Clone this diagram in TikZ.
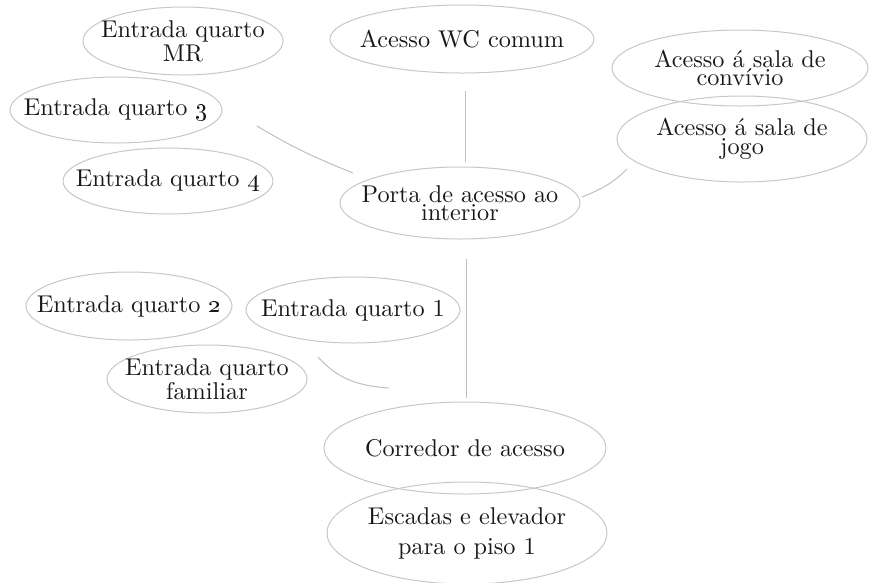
\documentclass[tikz,border=0pt]{standalone}
\usepackage{amsmath, amssymb}
\usepackage{tikz}
\usetikzlibrary{shapes.geometric}

\begin{document}
\begin{tikzpicture}[x=0.4pt, y=-0.4pt,
    room/.style={ellipse, draw=black!22, line width=0.4pt, inner sep=-40pt,
      align=center, font=\fontsize{9.7}{7.4}\selectfont, text=black!90},
    link/.style={draw=black!25, line width=0.4pt}]
      \useasboundingbox (0,0) rectangle (869,582);
      % Upper rooms
      \node[room, minimum width=80pt, minimum height=27.2pt] (mr) at (183,41) {Entrada quarto\\MR};
      \node[room, minimum width=84.8pt, minimum height=26.4pt] (q3) at (116,110) {Entrada quarto \oldstylenums{3}};
      \node[room, minimum width=84pt, minimum height=26.4pt] (q4) at (168,181) {Entrada quarto \oldstylenums{4}};
      \node[room, minimum width=105.6pt, minimum height=27.2pt] (wc) at (462,39) {Acesso WC comum};
      % Door
      \node[room, minimum width=96pt, minimum height=28.8pt] (porta) at (460,203) {Porta de acesso ao\\interior};
      % Common rooms
      \node[room, minimum width=102.4pt, minimum height=30.4pt] (convivio) at (740,68) {Acesso á sala de\\convívio};
      \node[room, minimum width=100pt, minimum height=34.4pt] (jogo) at (742,139) {Acesso á sala de\\jogo};
      % Lower rooms
      \node[room, minimum width=82.4pt, minimum height=27.2pt] (q2) at (129,306) {Entrada quarto \oldstylenums{2}};
      \node[room, minimum width=85.6pt, minimum height=26.4pt] (q1) at (353,310) {Entrada quarto 1};
      \node[room, minimum width=80pt, minimum height=27.2pt] (familiar) at (207,379) {Entrada quarto\\familiar};
      % Corridor and stairs
      \node[room, minimum width=112.8pt, minimum height=36.8pt] (corredor) at (465,448) {Corredor de acesso};
      \node[room, minimum width=112pt, minimum height=40.8pt, font=\fontsize{9.7}{12}\selectfont] (escadas) at (467,533) {Escadas e elevador\\para o piso 1};
      % Links (they stop short of the rooms)
      \draw[link] ([shift={(3,17)}]wc.south) -- ([shift={(5,-5)}]porta.north);
      \draw[link] ([shift={(6,19)}]porta.south) -- ([shift={(1,-4)}]corredor.north);
      \draw[link] ([shift={(141,16)}]q3.center) to[out=-31, in=158] ([shift={(-107,-30)}]porta.center);
      \draw[link] ([shift={(122,-6)}]porta.center) to[out=22, in=225] ([shift={(-115,30)}]jogo.center);
      \draw[link] ([shift={(111,-22)}]familiar.center) to[out=-48, in=176] ([shift={(-76,-60)}]corredor.center);
\end{tikzpicture}
\end{document}
